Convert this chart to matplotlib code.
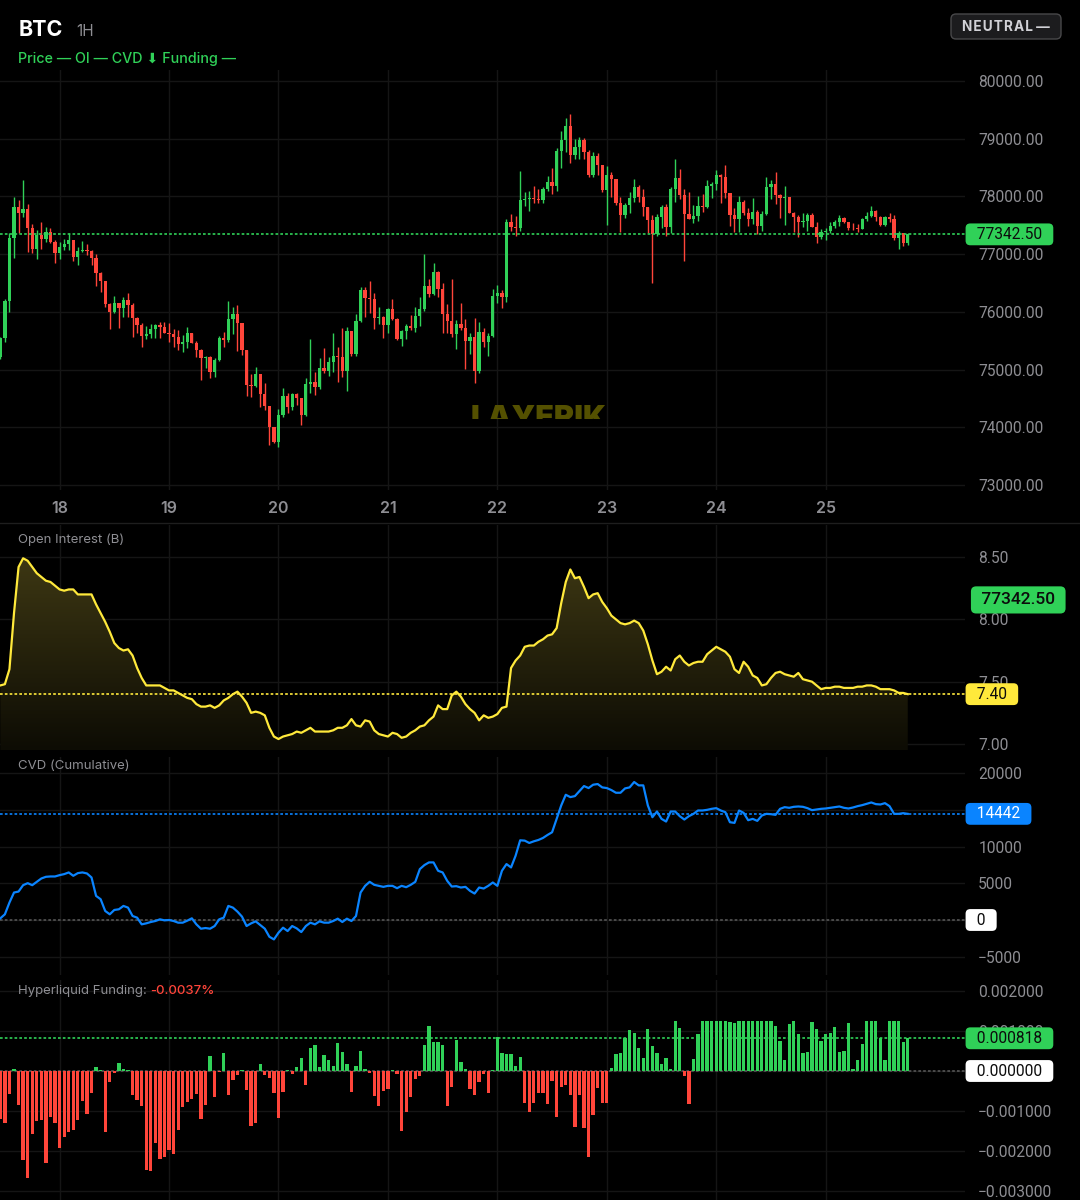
import numpy as np
import matplotlib.pyplot as plt
from matplotlib.patches import FancyBboxPatch, PathPatch
from matplotlib.path import Path
from matplotlib.colors import LinearSegmentedColormap
from matplotlib.transforms import blended_transform_factory, IdentityTransform, Bbox
from matplotlib.ticker import FuncFormatter

plt.rcParams['font.family'] = ['Inter', 'DejaVu Sans']
NUM_FONT = ['Roboto', 'DejaVu Sans']

# =====================================
# COLOURS
# =====================================

BG = "#000000"
GREEN = "#30d158"
RED = "#ff453a"
YELLOW = "#ffe93b"
BLUE = "#0a84ff"
GRAY = "#8e8e93"
GRID = "#151515"

# =====================================
# DATA (hourly, 17th 11:00 -> 25th 18:00)
# =====================================

start_hour = 11          # first candle = day 17, 11:00
day_labels = ["18", "19", "20", "21", "22", "23", "24", "25"]

price_open0 = 75210
price_close = [
    75540, 76188, 77285, 77817, 77720, 77790, 77447, 77095, 77332, 77262,
    77390, 77216, 77025, 77130, 77175, 77245, 76945, 77055, 77070, 77055,
    76938, 76680, 76540, 76136, 75991, 76159, 76072, 76205, 76118, 75887,
    75771, 75587, 75610, 75697, 75766, 75743, 75627, 75620, 75570, 75442,
    75471, 75627, 75466, 75338, 75194, 75223, 74963, 75165, 75541, 75512,
    75870, 75962, 75800, 75338, 74732, 74720, 74917, 74576, 74368, 73998,
    73750, 74212, 74541, 74356, 74576, 74512, 74212, 74749, 74790, 74691,
    75021, 74980, 75136, 75234, 75211, 74980, 75673, 75269, 75841, 76378,
    76234, 76222, 75899, 75916, 75772, 76043, 75876, 75523, 75673, 75760,
    75725, 75928, 76043, 76453, 76303, 76690, 76396, 75962, 75846, 75616,
    75789, 75714, 75500, 75558, 74980, 75645, 75483, 75587, 76274, 76320,
    76251, 77551, 77476, 77459, 77938, 77961, 77978, 77955, 77938, 78123,
    78256, 78180, 78787, 78978, 79220, 78718, 78862, 78978, 78776, 78371,
    78700, 78545, 78111, 78371, 78302, 77880, 77678, 77851, 77978, 78157,
    77996, 77811, 77591, 77349, 77638, 77822, 77465, 78123, 78313, 78025,
    77695, 77609, 77661, 77834, 77811, 78181, 78215, 78371, 78342, 78065,
    77678, 77603, 77897, 77718, 77603, 77724, 77487, 77695, 78169, 78215,
    78025, 77967, 77996, 77718, 77638, 77562, 77580, 77678, 77476, 77291,
    77389, 77407, 77487, 77562, 77620, 77551, 77459, 77447, 77435, 77603,
    77666, 77747, 77638, 77505, 77649, 77603, 77274, 77360, 77199, 77342.5,
]
price_high = [
    75570, 76220, 77360, 77996, 77938, 78285, 77863, 77516, 77418, 77560,
    77465, 77447, 77250, 77215, 77270, 77372, 77245, 77118, 77228, 77175,
    77070, 76997, 76697, 76540, 76147, 76274, 76159, 76263, 76332, 76159,
    75916, 75800, 75754, 75783, 75789, 75829, 75829, 75800, 75697, 75685,
    75598, 75743, 75639, 75494, 75356, 75234, 75234, 75194, 75581, 75645,
    76194, 76090, 76118, 75800, 75338, 74917, 75038, 74917, 74761, 74368,
    73998, 74310, 74674, 74588, 74599, 74588, 74512, 74847, 75529, 74963,
    75194, 75367, 75223, 75627, 75385, 75725, 75743, 75673, 75962, 76436,
    76436, 76534, 76320, 76090, 75928, 76061, 76222, 75887, 75685, 75789,
    75945, 76090, 76263, 77002, 76563, 76841, 76702, 76494, 76136, 76569,
    75858, 76147, 75870, 75627, 75887, 75818, 75725, 75627, 76390, 76465,
    76378, 77603, 77695, 77660, 78440, 78082, 78100, 78180, 78123, 78157,
    78354, 78487, 78845, 79134, 79353, 79428, 78989, 79024, 79007, 78805,
    78776, 78758, 78545, 78527, 78429, 78302, 77984, 77892, 78082, 78296,
    78198, 78123, 77811, 77678, 77695, 77851, 77869, 78169, 78642, 78469,
    78123, 78082, 77851, 78013, 78036, 78285, 78256, 78458, 78389, 78544,
    78065, 77793, 78013, 77938, 77793, 77967, 77764, 77753, 78331, 78285,
    78417, 78042, 78181, 77996, 77735, 77678, 77707, 77707, 77707, 77562,
    77429, 77447, 77562, 77591, 77678, 77638, 77562, 77533, 77522, 77620,
    77735, 77834, 77764, 77660, 77660, 77707, 77678, 77400, 77372, 77360,
]
price_low = [
    75180, 75470, 75990, 76939, 77372, 77650, 77031, 77014, 76910, 77090,
    77216, 77200, 76840, 76915, 77070, 77070, 76887, 76812, 77040, 76985,
    76812, 76448, 76350, 76078, 75702, 75974, 75725, 75916, 75916, 75570,
    75627, 75396, 75523, 75552, 75541, 75541, 75627, 75483, 75396, 75338,
    75310, 75367, 75454, 75223, 74818, 75021, 74847, 74876, 75153, 75385,
    75483, 75616, 75327, 75252, 74547, 74530, 74703, 74356, 74298, 73692,
    73733, 73663, 74172, 74252, 74298, 74385, 74039, 74194, 74599, 74559,
    74657, 74945, 74888, 74963, 74790, 74865, 74634, 75235, 75235, 75830,
    75910, 75979, 75702, 75789, 75541, 75627, 75858, 75512, 75413, 75529,
    75685, 75644, 75754, 76020, 76263, 76292, 76263, 75627, 75627, 75558,
    75350, 75685, 75003, 75269, 74772, 74934, 75385, 75235, 75558, 76147,
    76061, 76176, 77407, 77314, 77407, 77834, 77753, 77880, 77892, 77892,
    78100, 78042, 78100, 78498, 78776, 78573, 78643, 78643, 78643, 78342,
    78342, 78371, 78082, 77505, 77996, 77851, 77389, 77620, 77707, 77909,
    77909, 77660, 77372, 76494, 77314, 77447, 77314, 77372, 77909, 77949,
    76887, 77609, 77533, 77580, 77736, 77793, 77967, 78111, 77892, 77967,
    77487, 77389, 77389, 77678, 77487, 77516, 77349, 77407, 77678, 77949,
    77868, 77620, 77505, 77707, 77389, 77291, 77464, 77407, 77464, 77187,
    77256, 77245, 77372, 77447, 77487, 77533, 77418, 77418, 77389, 77430,
    77580, 77638, 77580, 77487, 77487, 77562, 77245, 77083, 77141, 77158,
]

open_interest = [
    7.47, 7.48, 7.60, 8.05, 8.42, 8.49, 8.47, 8.42, 8.37, 8.34,
    8.31, 8.30, 8.27, 8.24, 8.23, 8.24, 8.24, 8.20, 8.20, 8.20,
    8.20, 8.12, 8.05, 7.98, 7.90, 7.81, 7.77, 7.75, 7.76, 7.71,
    7.61, 7.53, 7.47, 7.47, 7.47, 7.47, 7.45, 7.43, 7.43, 7.41,
    7.39, 7.37, 7.36, 7.32, 7.30, 7.30, 7.31, 7.29, 7.31, 7.35,
    7.37, 7.40, 7.42, 7.38, 7.33, 7.25, 7.26, 7.25, 7.23, 7.13,
    7.06, 7.04, 7.06, 7.07, 7.08, 7.10, 7.09, 7.11, 7.13, 7.10,
    7.10, 7.10, 7.10, 7.11, 7.13, 7.13, 7.15, 7.20, 7.15, 7.14,
    7.19, 7.18, 7.11, 7.08, 7.07, 7.06, 7.09, 7.08, 7.05, 7.06,
    7.09, 7.11, 7.14, 7.15, 7.19, 7.22, 7.31, 7.28, 7.28, 7.39,
    7.42, 7.38, 7.32, 7.28, 7.25, 7.19, 7.23, 7.21, 7.22, 7.24,
    7.29, 7.30, 7.61, 7.67, 7.71, 7.78, 7.79, 7.79, 7.82, 7.84,
    7.87, 7.88, 7.93, 8.13, 8.30, 8.40, 8.33, 8.34, 8.26, 8.17,
    8.20, 8.21, 8.14, 8.09, 8.03, 8.00, 7.97, 7.96, 7.97, 7.99,
    7.97, 7.91, 7.80, 7.67, 7.56, 7.58, 7.62, 7.59, 7.68, 7.71,
    7.66, 7.63, 7.65, 7.66, 7.66, 7.72, 7.75, 7.78, 7.76, 7.74,
    7.70, 7.60, 7.57, 7.66, 7.62, 7.55, 7.53, 7.47, 7.48, 7.53,
    7.57, 7.58, 7.56, 7.55, 7.54, 7.57, 7.52, 7.51, 7.50, 7.47,
    7.44, 7.45, 7.45, 7.46, 7.46, 7.45, 7.45, 7.45, 7.46, 7.46,
    7.47, 7.47, 7.46, 7.44, 7.44, 7.44, 7.43, 7.41, 7.41, 7.40,
]

cvd = [
    228, 775, 2369, 3736, 3873, 4738, 5012, 4738, 5194, 5650,
    5877, 5923, 5923, 6105, 6242, 6470, 6014, 6378, 6470, 6333,
    5786, 3280, 2825, 1230, 775, 1367, 1458, 1914, 1686, 547,
    319, -592, -456, -273, -137, 91, -46, 0, -137, -364,
    -364, -91, 228, -592, -1185, -1093, -1185, -820, 91, 319,
    1914, 1686, 1139, 456, -820, -456, -182, -683, -1185, -2278,
    -2642, -1731, -1048, -1503, -820, -1139, -1640, -820, -364, -592,
    -182, -364, -364, -137, 182, -273, 182, -137, 547, 3736,
    4647, 5194, 4784, 4647, 4510, 4647, 4647, 4328, 4647, 4465,
    4784, 5194, 6925, 7472, 7836, 7836, 6697, 6470, 5330, 4556,
    4602, 4419, 4510, 3964, 3599, 4419, 4283, 4647, 5103, 4647,
    6697, 7608, 7153, 8748, 10843, 10798, 10479, 10707, 10889, 11162,
    11572, 11937, 13759, 15581, 17039, 16720, 16857, 17541, 18224, 17951,
    18406, 18498, 18042, 17951, 17677, 17313, 17313, 17905, 18042, 18771,
    18315, 18315, 15581, 13987, 14761, 13759, 13395, 14761, 14761, 14124,
    13668, 14124, 14443, 14898, 14898, 14989, 15126, 15217, 14898, 14670,
    13304, 13212, 14898, 14579, 13577, 13759, 13486, 14215, 14443, 14397,
    14306, 15126, 15354, 15263, 15399, 15445, 15399, 15217, 14944, 15035,
    15126, 15171, 15263, 15354, 15445, 15263, 15171, 15308, 15490, 15627,
    15809, 15991, 15764, 15718, 15900, 15490, 14443, 14443, 14534, 14442,
]

# funding rate, in millionths
funding_e6 = [
    -1191, -1300, -583, 58, -858, -2216, -2666, -1566, -1250, -1216,
    -2300, -1150, -1291, -1916, -1650, -1525, -1466, -1216, -750, -1066,
    -550, 100, 17, -1525, -275, -50, 200, 58, 17, -608,
    -716, -875, -2483, -2500, -1791, -2200, -2150, -1983, -2083, -1483,
    -900, -775, -691, -583, -1191, -858, 366, -650, -25, 458,
    -600, -216, -108, 17, -483, -1375, -1300, 166, -108, -175,
    -541, -1166, -533, 33, -66, 100, 325, -341, 583, 641,
    100, 391, 283, 116, 700, 475, 175, -533, 116, 500,
    58, -50, -633, -883, -508, -450, 33, -66, -1508, -1025,
    -658, -200, -133, 641, 1133, 725, 725, 658, -883, -400,
    766, 233, 50, -450, -608, -266, -75, -541, 25, 858,
    458, 425, 433, 125, 358, -808, -1016, -808, -558, -541,
    -833, -241, -1141, -408, -350, -600, -1391, -600, -1433, -2141,
    -1100, -416, -808, -808, 83, 416, 441, 833, 1025, 958,
    583, 333, 1050, 625, 458, 175, 316, 42, 1258, 1066,
    -116, -833, 291, 916, 1258, 1258, 1258, 1258, 1258, 1258,
    1233, 1191, 1258, 1258, 1258, 1258, 1258, 1258, 1258, 1258,
    1125, 750, 275, 1166, 1258, 916, 441, 483, 1216, 1050,
    758, 916, 941, 1091, 483, 508, 1191, 50, 275, 675,
    1258, 1258, 1258, 833, 275, 1258, 1258, 1258, 716, 818,
]

price_ticks = [73000, 74000, 75000, 76000, 77000, 78000, 79000, 80000]
oi_ticks = [7.00, 7.50, 8.00, 8.50]
cvd_ticks = [-5000, 0, 5000, 10000, 15000, 20000]
funding_ticks = [-0.003, -0.002, -0.001, 0.0, 0.001, 0.002]
funding_text = "-0.0037%"

# =====================================
# PREP
# =====================================

close = np.array(price_close, dtype=float)
high = np.array(price_high, dtype=float)
low = np.array(price_low, dtype=float)
opn = np.concatenate([[price_open0], close[:-1]])
oi = np.array(open_interest)
cvd = np.array(cvd, dtype=float)
funding = np.array(funding_e6) * 1e-6

n = len(close)
x = np.arange(n)
day_pos = [24 * (k + 1) - start_hour for k in range(len(day_labels))]

last_price = close[-1]
last_oi = oi[-1]
last_cvd = cvd[-1]
last_funding = funding[-1]

# =====================================
# FIGURE / LAYOUT (pixel based)
# =====================================

W, H = 1080, 1200
fig = plt.figure(figsize=(W / 100, H / 100), dpi=100, facecolor=BG)
PLOT_RIGHT = 965
NUM_SIZE = 11.2


def make_ax(top, bottom):
    ax = fig.add_axes([0, 1 - bottom / H, PLOT_RIGHT / W, (bottom - top) / H])
    ax.set_facecolor(BG)
    for s in ax.spines.values():
        s.set_visible(False)
    ax.set_xlim(-0.07, 211.55)
    ax.set_xticks(day_pos)
    ax.grid(True, color=GRID, linewidth=1)
    ax.set_axisbelow(True)
    ax.yaxis.tick_right()
    ax.tick_params(axis="y", length=0, pad=9.5, labelcolor=GRAY, labelsize=NUM_SIZE)
    ax.tick_params(axis="x", length=0, labelbottom=False)
    return ax


def num_fmt(fmt, hidden=()):
    def f(v, p):
        if any(abs(v - h) < 1e-12 for h in hidden):
            return ""
        return fmt.format(v).replace("-", "\u2212")
    return FuncFormatter(f)


def fix_tick_font(ax):
    for lab in ax.get_yticklabels():
        lab.set_family(NUM_FONT)


ax_p = make_ax(70, 490)
ax_oi = make_ax(525, 750)
ax_cvd = make_ax(757, 975)
ax_f = make_ax(980, 1200)


def right_box(ax, y, text, fc, tc, yfrac=False, dx=0, spaces=2, weight="normal",
              size=NUM_SIZE, pad=0.22):
    tr = blended_transform_factory(ax.transAxes, ax.transAxes if yfrac else ax.transData)
    sp = " " * spaces
    ax.text(1 + (dx + 4) / PLOT_RIGHT, y, sp + text + sp, transform=tr, ha="left",
            va="center", fontsize=size, family=NUM_FONT, color=tc, clip_on=False,
            zorder=20, fontweight=weight,
            bbox=dict(boxstyle=f"round,pad={pad},rounding_size=0.3", fc=fc, ec="none"))


def level_line(ax, y, color):
    ax.axhline(y, color=color, linewidth=1.2, linestyle=(0, (1.6, 1.3)), zorder=4)


# =====================================
# PRICE (candles)
# =====================================

up = close >= opn
cols = np.where(up, GREEN, RED)
ax_p.vlines(x, low, high, colors=cols, linewidth=1.0, zorder=3)
body_lo = np.minimum(opn, close)
body_h = np.maximum(np.abs(close - opn), 14)
ax_p.bar(x, body_h, bottom=body_lo, width=0.72, color=cols, linewidth=0, zorder=3)

ax_p.set_ylim(72912, 80191)
ax_p.set_yticks(price_ticks)
ax_p.yaxis.set_major_formatter(num_fmt("{:.2f}"))
ax_p.tick_params(axis="x", labelbottom=True, labelcolor=GRAY, labelsize=11.5, pad=8)
ax_p.set_xticklabels(day_labels, fontweight="semibold")
level_line(ax_p, last_price, GREEN)
right_box(ax_p, last_price, f"{last_price:.2f}", GREEN, "#0c0c0c")

# watermark, only its upper strip is visible
wm = ax_p.text(0.488, (490 - 427) / 420, "LAYERIK", transform=ax_p.transAxes, fontsize=22,
               fontweight="black", color="#545000", ha="left", va="baseline", zorder=1,
               clip_on=True)
wm.set_clip_box(Bbox([[470, H - 419], [620, H - 404]]))

# =====================================
# OPEN INTEREST
# =====================================

oi_lo, oi_hi = 6.952, 8.757
verts = np.column_stack([np.r_[x[0], x, x[-1]], np.r_[oi_lo, oi, oi_lo]])
poly = PathPatch(Path(verts), facecolor="none", edgecolor="none")
ax_oi.add_patch(poly)
cmap = LinearSegmentedColormap.from_list("oi", ["#0d0c04", "#3d3713"])
grad = np.linspace(0, 1, 256).reshape(-1, 1)
im = ax_oi.imshow(grad, extent=[x[0], x[-1], oi_lo, oi.max()], origin="lower",
                  aspect="auto", cmap=cmap, zorder=1)
im.set_clip_path(poly)
ax_oi.plot(x, oi, color=YELLOW, linewidth=1.6, zorder=5, solid_joinstyle="round")
ax_oi.set_xlim(-0.07, 211.55)
ax_oi.set_ylim(oi_lo, oi_hi)
ax_oi.set_yticks(oi_ticks)
ax_oi.yaxis.set_major_formatter(num_fmt("{:.2f}"))
level_line(ax_oi, last_oi, YELLOW)
right_box(ax_oi, last_oi, f"{last_oi:.2f}", YELLOW, "#0c0c0c")
right_box(ax_oi, 0.667, f"{last_price:.2f}", GREEN, "#0c0c0c", yfrac=True, dx=8,
          spaces=1, weight="medium", size=12.5, pad=0.35)
ax_oi.text(18 / PLOT_RIGHT, 1 - 15 / 225, "Open Interest (B)", transform=ax_oi.transAxes,
           color=GRAY, fontsize=9.5, va="center", ha="left", zorder=6)

# =====================================
# CVD
# =====================================

ax_cvd.plot(x, cvd, color=BLUE, linewidth=1.6, zorder=5, solid_joinstyle="round")
ax_cvd.set_ylim(-7483, 22177)
ax_cvd.set_yticks(cvd_ticks)
ax_cvd.yaxis.set_major_formatter(num_fmt("{:.0f}", hidden=(0, 15000)))
ax_cvd.axhline(0, color="#555555", linewidth=1.2, linestyle=(0, (1.6, 1.3)), zorder=2)
level_line(ax_cvd, last_cvd, BLUE)
right_box(ax_cvd, last_cvd, f"{last_cvd:.0f}", BLUE, "white")
right_box(ax_cvd, 0, "0", "white", "#0c0c0c")
ax_cvd.text(18 / PLOT_RIGHT, 1 - 9 / 218, "CVD (Cumulative)", transform=ax_cvd.transAxes,
            color=GRAY, fontsize=9.5, va="center", ha="left", zorder=6)

# =====================================
# FUNDING
# =====================================

fcols = np.where(funding >= 0, GREEN, RED)
ax_f.bar(x, funding, width=0.72, color=fcols, linewidth=0, zorder=3)
ax_f.set_ylim(-0.003225, 0.002275)
ax_f.set_yticks(funding_ticks)
ax_f.yaxis.set_major_formatter(num_fmt("{:.6f}", hidden=(0.0,)))
ax_f.axhline(0, color="#555555", linewidth=1.2, linestyle=(0, (1.6, 1.3)), zorder=2)
level_line(ax_f, last_funding, GREEN)
right_box(ax_f, last_funding, f"{last_funding:.6f}", GREEN, "#0c0c0c")
right_box(ax_f, 0, f"{0:.6f}", "white", "#0c0c0c")
t1 = ax_f.text(18 / PLOT_RIGHT, 1 - 11 / 220, "Hyperliquid Funding: ", transform=ax_f.transAxes,
               color=GRAY, fontsize=9.5, va="center", ha="left", zorder=6)
ax_f.annotate(funding_text, xy=(1, 0.5), xycoords=t1, va="center", ha="left",
              color=RED, fontsize=9.5, fontweight="medium", zorder=6)

for a in (ax_p, ax_oi, ax_cvd, ax_f):
    fix_tick_font(a)

# =====================================
# HEADER
# =====================================

fig.text(19 / W, 1 - 36 / H, "BTC", fontsize=15.5, fontweight="bold", color="white", va="baseline")
fig.text(76 / W, 1 - 36 / H, "1H", fontsize=11, color=GRAY, va="baseline")
fig.text(18 / W, 1 - 62.5 / H, "Price \u2014 OI \u2014 CVD \u2b07 Funding \u2014",
         fontsize=10.3, color=GREEN, fontweight="medium", va="baseline")

badge = FancyBboxPatch((951, H - 39), 110, 25, boxstyle="round,pad=0,rounding_size=5",
                       fc="#1c1c1e", ec="#48484a", lw=1, transform=IdentityTransform())
fig.patches.append(badge)
fig.text(1006 / W, 1 - 27 / H, "\u200a".join("NEUTRAL") + " \u2014", fontsize=9.8,
         fontweight="bold", color="#d1d1d6", ha="center", va="center")

# separator under the price pane
fig.add_artist(plt.Line2D([0, 1], [1 - 523 / H, 1 - 523 / H], color="#1e1e1e", linewidth=1))

fig.savefig("out.png", dpi=100, facecolor=BG)
